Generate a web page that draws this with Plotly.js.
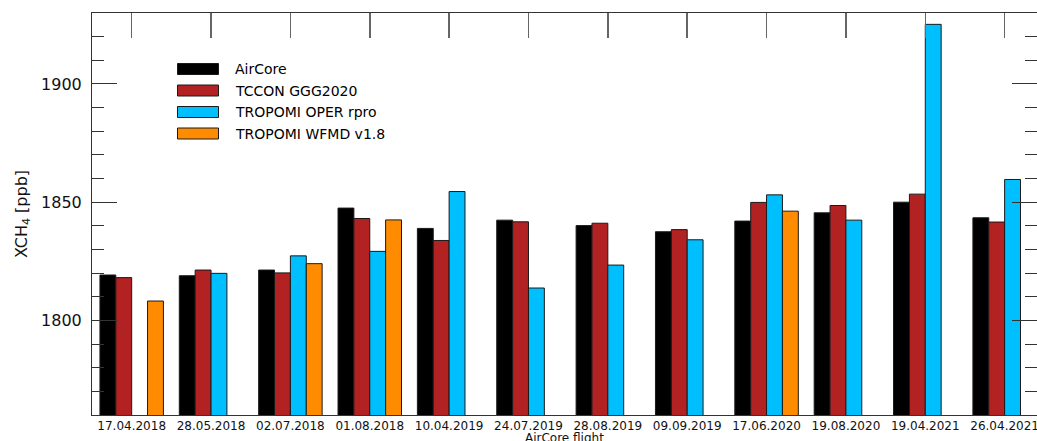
<!DOCTYPE html>
<html>
<head>
<meta charset="utf-8">
<script src="https://cdn.plot.ly/plotly-3.0.1.min.js"></script>
<style>
  html, body { margin: 0; padding: 0; background: #fff; }
  #chart { width: 1037px; height: 441px; }
</style>
</head>
<body>
<div id="chart"></div>
<script>
// XCH4 from AirCore flights compared with TCCON and two TROPOMI products
const flights = ['17.04.2018', '28.05.2018', '02.07.2018', '01.08.2018', '10.04.2019', '24.07.2019',
                 '28.08.2019', '09.09.2019', '17.06.2020', '19.08.2020', '19.04.2021', '26.04.2021'];
const airCore     = [1819.2, 1818.9, 1821.3, 1847.5, 1838.9, 1842.4, 1840.1, 1837.5, 1842.0, 1845.5, 1850.0, 1843.4];
const tcconGGG    = [1818.1, 1821.3, 1820.1, 1843.1, 1833.8, 1841.7, 1841.1, 1838.4, 1849.9, 1848.6, 1853.4, 1841.6];
const tropomiOper = [null,   1819.9, 1827.3, 1829.2, 1854.5, 1813.7, 1823.4, 1834.1, 1853.1, 1842.4, 1925.2, 1859.6];
const tropomiWfmd = [1808.2, null,   1824.0, 1842.5, null,   null,   null,   null,   1846.2, null,   null,   null];

const seriesNames  = ['AirCore', 'TCCON GGG2020', 'TROPOMI OPER rpro', 'TROPOMI WFMD v1.8'];
const seriesValues = [airCore, tcconGGG, tropomiOper, tropomiWfmd];
const seriesColors = ['#000000', '#b22222', '#00bfff', '#ff8c00'];

const FONT = 'DejaVu Sans, Verdana, sans-serif';
const W = 1037, H = 441;
const margin = { l: 92, r: 0, t: 13, b: 26 };
const plotW = W - margin.l - margin.r;
const plotH = H - margin.t - margin.b;

const traces = seriesNames.map((name, i) => ({
  type: 'bar',
  name: name,
  x: flights,
  y: seriesValues[i],
  marker: { color: seriesColors[i], line: { color: '#1a1a1a', width: 1 } },
  showlegend: false,
  hoverinfo: 'x+y+name'
}));

// empty helper trace so the top (category ticks) and right (value ticks) axes get drawn
traces.push({
  type: 'scatter', mode: 'markers', x: [], y: [],
  xaxis: 'x2', yaxis: 'y2', showlegend: false, hoverinfo: 'skip'
});

// legend drawn as wide swatches with labels (paper coordinates from pixel offsets)
const px2x = p => (p - margin.l) / plotW;
const px2y = p => (margin.t + plotH - p) / plotH;
const legendShapes = [];
const notes = [];
seriesNames.forEach((name, i) => {
  const cy = 69 + i * 21.5;
  legendShapes.push({
    type: 'rect', xref: 'paper', yref: 'paper',
    x0: px2x(177.5), x1: px2x(218.5), y0: px2y(cy + 5.5), y1: px2y(cy - 5.5),
    fillcolor: seriesColors[i], line: { color: '#1a1a1a', width: 1 }
  });
  notes.push({
    xref: 'paper', yref: 'paper', x: px2x(233), y: px2y(cy),
    xanchor: 'left', yanchor: 'middle', showarrow: false,
    text: name, font: { family: FONT, size: 14, color: '#000' }
  });
});

// x-axis title sits below the date labels, at the bottom edge of the figure
notes.push({
  xref: 'paper', yref: 'paper', x: 0.5, y: px2y(437.5),
  xanchor: 'center', yanchor: 'middle', showarrow: false,
  text: 'AirCore flight', font: { family: FONT, size: 12, color: '#111' }
});

const xRange = [-0.5, -0.5 + plotW / 79.36];
const yRange = [1760, 1930];

const yTicks = {
  range: yRange,
  tickmode: 'linear', tick0: 1800, dtick: 50,
  ticks: 'inside', ticklen: 25, tickcolor: '#333', tickwidth: 1,
  minor: { tickmode: 'linear', tick0: 1760, dtick: 10, ticks: 'inside', ticklen: 12, tickcolor: '#333', tickwidth: 1, showgrid: false },
  showgrid: false, zeroline: false
};

const layout = {
  width: W, height: H,
  margin: margin,
  paper_bgcolor: '#fff', plot_bgcolor: '#fff',
  font: { family: FONT, color: '#111' },
  barmode: 'group',
  bargap: 0.2,
  bargroupgap: 0,
  showlegend: false,
  xaxis: {
    type: 'category',
    range: xRange,
    showline: true, linecolor: '#333', linewidth: 1, mirror: true,
    ticks: '', showgrid: false, zeroline: false,
    tickfont: { family: FONT, size: 12, color: '#111' }
  },
  xaxis2: {
    overlaying: 'x', side: 'top', type: 'linear',
    range: xRange,
    tickmode: 'array', tickvals: flights.map((_, i) => i),
    ticks: 'inside', ticklen: 25, tickcolor: '#666', tickwidth: 1.5,
    showticklabels: false, showline: false, showgrid: false, zeroline: false
  },
  yaxis: Object.assign({}, yTicks, {
    showline: true, linecolor: '#333', linewidth: 1, mirror: false,
    ticklabelstandoff: 6,
    tickfont: { family: FONT, size: 16, color: '#111' },
    title: { text: 'XCH<sub>4</sub> [ppb]', font: { family: FONT, size: 16, color: '#111' }, standoff: 9 }
  }),
  yaxis2: Object.assign({}, yTicks, {
    overlaying: 'y', side: 'right',
    showline: false, showticklabels: false
  }),
  shapes: legendShapes,
  annotations: notes
};

Plotly.newPlot('chart', traces, layout, { displayModeBar: false, staticPlot: true });
</script>
</body>
</html>
